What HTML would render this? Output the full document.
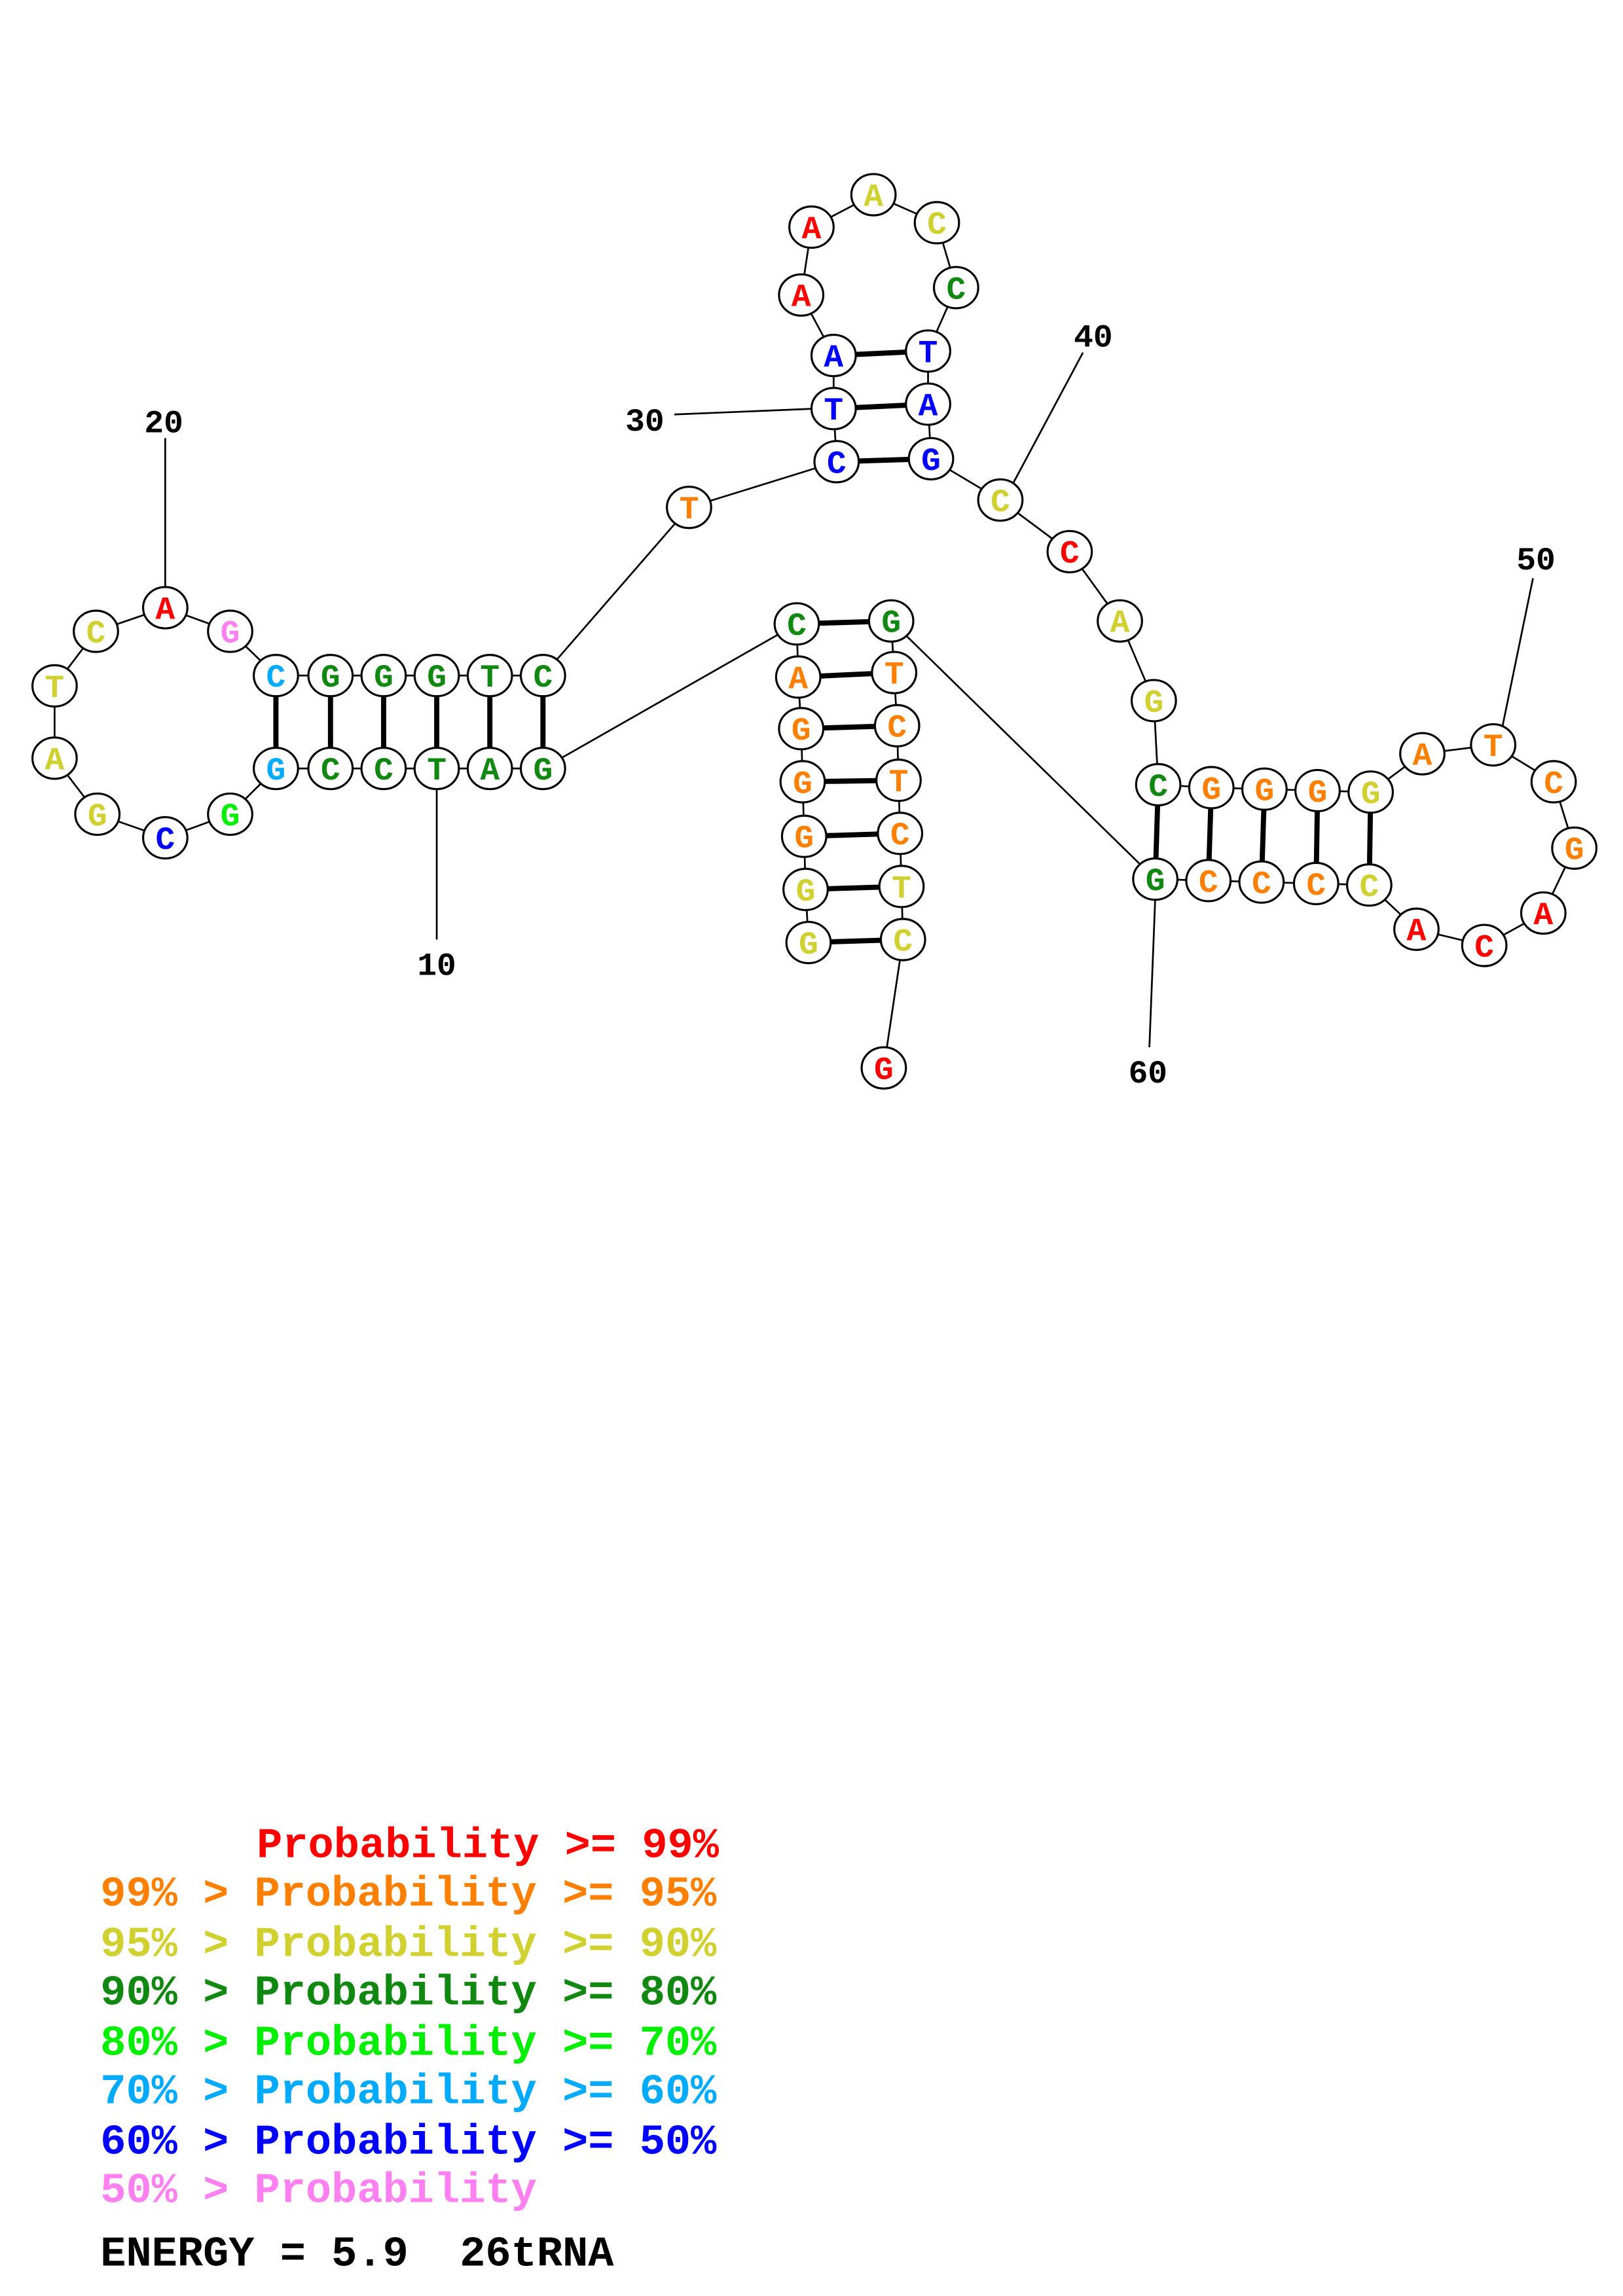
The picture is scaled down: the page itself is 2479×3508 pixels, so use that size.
<!DOCTYPE html>
<html><head><meta charset="utf-8"><style>html,body{margin:0;padding:0;background:#fff}svg{display:block}.pre{white-space:pre}</style></head>
<body>
<svg width="2479" height="3508" viewBox="0 0 1100 1556.6" preserveAspectRatio="none" xmlns="http://www.w3.org/2000/svg">
<rect width="1100" height="1556.6" fill="#fff"/>
<g transform="translate(-3,-3)">
<g stroke="#000" stroke-width="1.2" fill="none">
<polyline points="371,524 335,524 299,524 263,524 227,524 190,524 159,555 115,571 69,555 40,517 40,468 68,431 115,415 159,431 190,461 227,461 263,461 299,461 335,461 371,461 470,347 570,316 568,280 568,244 546,203 553,157 595,135 638,154 651,198 632,241 632,277 634,314 681,342 728,377 762,424 785,478 788,535 824,537 860,538 896,539 932,540 967,514 1015,508 1056,533 1070,578 1049,622 1009,644 963,633 931,603 895,602 858,601 822,600 786,599 607,424 609,459 611,495 612,532 613,568 614,604 615,640 602,727"/>
<polyline points="371,524 543,426 544,462 546,497 547,533 548,570 549,606 551,642"/>
<line x1="115" y1="300" x2="115" y2="403"/>
<line x1="299" y1="536" x2="299" y2="640"/>
<line x1="460" y1="284" x2="557" y2="280"/>
<line x1="737" y1="242" x2="690" y2="330"/>
<line x1="1042" y1="395" x2="1021" y2="497"/>
<line x1="786" y1="611" x2="782" y2="713"/>
</g>
<g stroke="#000" stroke-width="3.5">
<line x1="190" y1="461" x2="190" y2="524"/><line x1="227" y1="461" x2="227" y2="524"/>
<line x1="263" y1="461" x2="263" y2="524"/><line x1="299" y1="461" x2="299" y2="524"/>
<line x1="335" y1="461" x2="335" y2="524"/><line x1="371" y1="461" x2="371" y2="524"/>
<line x1="568" y1="244" x2="632" y2="241"/><line x1="568" y1="280" x2="632" y2="277"/><line x1="570" y1="316" x2="634" y2="314"/>
<line x1="543" y1="426" x2="607" y2="424"/><line x1="544" y1="462" x2="609" y2="459"/><line x1="546" y1="497" x2="611" y2="495"/>
<line x1="547" y1="533" x2="612" y2="532"/><line x1="548" y1="570" x2="613" y2="568"/><line x1="549" y1="606" x2="614" y2="604"/><line x1="551" y1="642" x2="615" y2="640"/>
<line x1="788" y1="535" x2="786" y2="599"/><line x1="824" y1="537" x2="822" y2="600"/><line x1="860" y1="538" x2="858" y2="601"/>
<line x1="896" y1="539" x2="895" y2="602"/><line x1="932" y1="540" x2="931" y2="603"/>
</g>
<g font-family="Liberation Mono, monospace" font-weight="bold" font-size="22" text-anchor="middle">
<text x="114" y="296">20</text><text x="299" y="664">10</text><text x="440" y="295">30</text>
<text x="744" y="238">40</text><text x="1044" y="389">50</text><text x="781" y="737">60</text>
</g>
<g stroke="#000" stroke-width="1.4" fill="#fff">
<ellipse cx="190" cy="461" rx="15" ry="14"/><ellipse cx="227" cy="461" rx="15" ry="14"/><ellipse cx="263" cy="461" rx="15" ry="14"/><ellipse cx="299" cy="461" rx="15" ry="14"/><ellipse cx="335" cy="461" rx="15" ry="14"/><ellipse cx="371" cy="461" rx="15" ry="14"/>
<ellipse cx="190" cy="524" rx="15" ry="14"/><ellipse cx="227" cy="524" rx="15" ry="14"/><ellipse cx="263" cy="524" rx="15" ry="14"/><ellipse cx="299" cy="524" rx="15" ry="14"/><ellipse cx="335" cy="524" rx="15" ry="14"/><ellipse cx="371" cy="524" rx="15" ry="14"/>
<ellipse cx="159" cy="431" rx="15" ry="14"/><ellipse cx="115" cy="415" rx="15" ry="14"/><ellipse cx="68" cy="431" rx="15" ry="14"/><ellipse cx="40" cy="468" rx="15" ry="14"/><ellipse cx="40" cy="517" rx="15" ry="14"/><ellipse cx="69" cy="555" rx="15" ry="14"/><ellipse cx="115" cy="571" rx="15" ry="14"/><ellipse cx="159" cy="555" rx="15" ry="14"/>
<ellipse cx="470" cy="347" rx="15" ry="14"/>
<ellipse cx="570" cy="316" rx="15" ry="14"/><ellipse cx="568" cy="280" rx="15" ry="14"/><ellipse cx="568" cy="244" rx="15" ry="14"/><ellipse cx="546" cy="203" rx="15" ry="14"/><ellipse cx="553" cy="157" rx="15" ry="14"/><ellipse cx="595" cy="135" rx="15" ry="14"/><ellipse cx="638" cy="154" rx="15" ry="14"/><ellipse cx="651" cy="198" rx="15" ry="14"/><ellipse cx="632" cy="241" rx="15" ry="14"/><ellipse cx="632" cy="277" rx="15" ry="14"/><ellipse cx="634" cy="314" rx="15" ry="14"/>
<ellipse cx="681" cy="342" rx="15" ry="14"/><ellipse cx="728" cy="377" rx="15" ry="14"/><ellipse cx="762" cy="424" rx="15" ry="14"/><ellipse cx="785" cy="478" rx="15" ry="14"/>
<ellipse cx="788" cy="535" rx="15" ry="14"/><ellipse cx="824" cy="537" rx="15" ry="14"/><ellipse cx="860" cy="538" rx="15" ry="14"/><ellipse cx="896" cy="539" rx="15" ry="14"/><ellipse cx="932" cy="540" rx="15" ry="14"/>
<ellipse cx="786" cy="599" rx="15" ry="14"/><ellipse cx="822" cy="600" rx="15" ry="14"/><ellipse cx="858" cy="601" rx="15" ry="14"/><ellipse cx="895" cy="602" rx="15" ry="14"/><ellipse cx="931" cy="603" rx="15" ry="14"/>
<ellipse cx="967" cy="514" rx="15" ry="14"/><ellipse cx="1015" cy="508" rx="15" ry="14"/><ellipse cx="1056" cy="533" rx="15" ry="14"/><ellipse cx="1070" cy="578" rx="15" ry="14"/><ellipse cx="1049" cy="622" rx="15" ry="14"/><ellipse cx="1009" cy="644" rx="15" ry="14"/><ellipse cx="963" cy="633" rx="15" ry="14"/>
<ellipse cx="543" cy="426" rx="15" ry="14"/><ellipse cx="544" cy="462" rx="15" ry="14"/><ellipse cx="546" cy="497" rx="15" ry="14"/><ellipse cx="547" cy="533" rx="15" ry="14"/><ellipse cx="548" cy="570" rx="15" ry="14"/><ellipse cx="549" cy="606" rx="15" ry="14"/><ellipse cx="551" cy="642" rx="15" ry="14"/>
<ellipse cx="607" cy="424" rx="15" ry="14"/><ellipse cx="609" cy="459" rx="15" ry="14"/><ellipse cx="611" cy="495" rx="15" ry="14"/><ellipse cx="612" cy="532" rx="15" ry="14"/><ellipse cx="613" cy="568" rx="15" ry="14"/><ellipse cx="614" cy="604" rx="15" ry="14"/><ellipse cx="615" cy="640" rx="15" ry="14"/>
<ellipse cx="602" cy="727" rx="15" ry="14"/>
</g>
<g font-family="Liberation Mono, monospace" font-weight="bold" font-size="22" text-anchor="middle">
<g transform="translate(0,7.5)">
<text x="190" y="461" fill="#00aaff">C</text><text x="227" y="461" fill="#118811">G</text><text x="263" y="461" fill="#118811">G</text><text x="299" y="461" fill="#118811">G</text><text x="335" y="461" fill="#118811">T</text><text x="371" y="461" fill="#118811">C</text>
<text x="190" y="524" fill="#00aaff">G</text><text x="227" y="524" fill="#118811">C</text><text x="263" y="524" fill="#118811">C</text><text x="299" y="524" fill="#118811">T</text><text x="335" y="524" fill="#118811">A</text><text x="371" y="524" fill="#118811">G</text>
<text x="159" y="431" fill="#ff80f0">G</text><text x="115" y="415" fill="#ff0000">A</text><text x="68" y="431" fill="#d0d030">C</text><text x="40" y="468" fill="#d0d030">T</text><text x="40" y="517" fill="#d0d030">A</text><text x="69" y="555" fill="#d0d030">G</text><text x="115" y="571" fill="#0000ff">C</text><text x="159" y="555" fill="#00ee00">G</text>
<text x="470" y="347" fill="#ff8000">T</text>
<text x="570" y="316" fill="#0000ff">C</text><text x="568" y="280" fill="#0000ff">T</text><text x="568" y="244" fill="#0000ff">A</text><text x="546" y="203" fill="#ff0000">A</text><text x="553" y="157" fill="#ff0000">A</text><text x="595" y="135" fill="#d0d030">A</text><text x="638" y="154" fill="#d0d030">C</text><text x="651" y="198" fill="#118811">C</text><text x="632" y="241" fill="#0000ff">T</text><text x="632" y="277" fill="#0000ff">A</text><text x="634" y="314" fill="#0000ff">G</text>
<text x="681" y="342" fill="#d0d030">C</text><text x="728" y="377" fill="#ff0000">C</text><text x="762" y="424" fill="#d0d030">A</text><text x="785" y="478" fill="#d0d030">G</text>
<text x="788" y="535" fill="#118811">C</text><text x="824" y="537" fill="#ff8000">G</text><text x="860" y="538" fill="#ff8000">G</text><text x="896" y="539" fill="#ff8000">G</text><text x="932" y="540" fill="#d0d030">G</text>
<text x="786" y="599" fill="#118811">G</text><text x="822" y="600" fill="#ff8000">C</text><text x="858" y="601" fill="#ff8000">C</text><text x="895" y="602" fill="#ff8000">C</text><text x="931" y="603" fill="#d0d030">C</text>
<text x="967" y="514" fill="#ff8000">A</text><text x="1015" y="508" fill="#ff8000">T</text><text x="1056" y="533" fill="#ff8000">C</text><text x="1070" y="578" fill="#ff8000">G</text><text x="1049" y="622" fill="#ff0000">A</text><text x="1009" y="644" fill="#ff0000">C</text><text x="963" y="633" fill="#ff0000">A</text>
<text x="543" y="426" fill="#118811">C</text><text x="544" y="462" fill="#ff8000">A</text><text x="546" y="497" fill="#ff8000">G</text><text x="547" y="533" fill="#ff8000">G</text><text x="548" y="570" fill="#ff8000">G</text><text x="549" y="606" fill="#d0d030">G</text><text x="551" y="642" fill="#d0d030">G</text>
<text x="607" y="424" fill="#118811">G</text><text x="609" y="459" fill="#ff8000">T</text><text x="611" y="495" fill="#ff8000">C</text><text x="612" y="532" fill="#ff8000">T</text><text x="613" y="568" fill="#ff8000">C</text><text x="614" y="604" fill="#d0d030">T</text><text x="615" y="640" fill="#d0d030">C</text>
<text x="602" y="727" fill="#ff0000">G</text>
</g>
</g>
</g>
<g font-family="Liberation Mono, monospace" font-weight="bold" font-size="29" class="pre">
<text x="174" y="1259" fill="#ff0000" class="pre">Probability &gt;= 99%</text>
<text x="68" y="1292" fill="#ff8000" class="pre">99% &gt; Probability &gt;= 95%</text>
<text x="68" y="1326" fill="#d0d030" class="pre">95% &gt; Probability &gt;= 90%</text>
<text x="68" y="1359" fill="#118811" class="pre">90% &gt; Probability &gt;= 80%</text>
<text x="68" y="1393" fill="#00ee00" class="pre">80% &gt; Probability &gt;= 70%</text>
<text x="68" y="1426" fill="#00aaff" class="pre">70% &gt; Probability &gt;= 60%</text>
<text x="68" y="1460" fill="#0000ff" class="pre">60% &gt; Probability &gt;= 50%</text>
<text x="68" y="1493" fill="#ff80f0" class="pre">50% &gt; Probability</text>
<text x="68" y="1536" fill="#000" class="pre">ENERGY = 5.9  26tRNA</text>
</g>
</svg>
</body></html>
